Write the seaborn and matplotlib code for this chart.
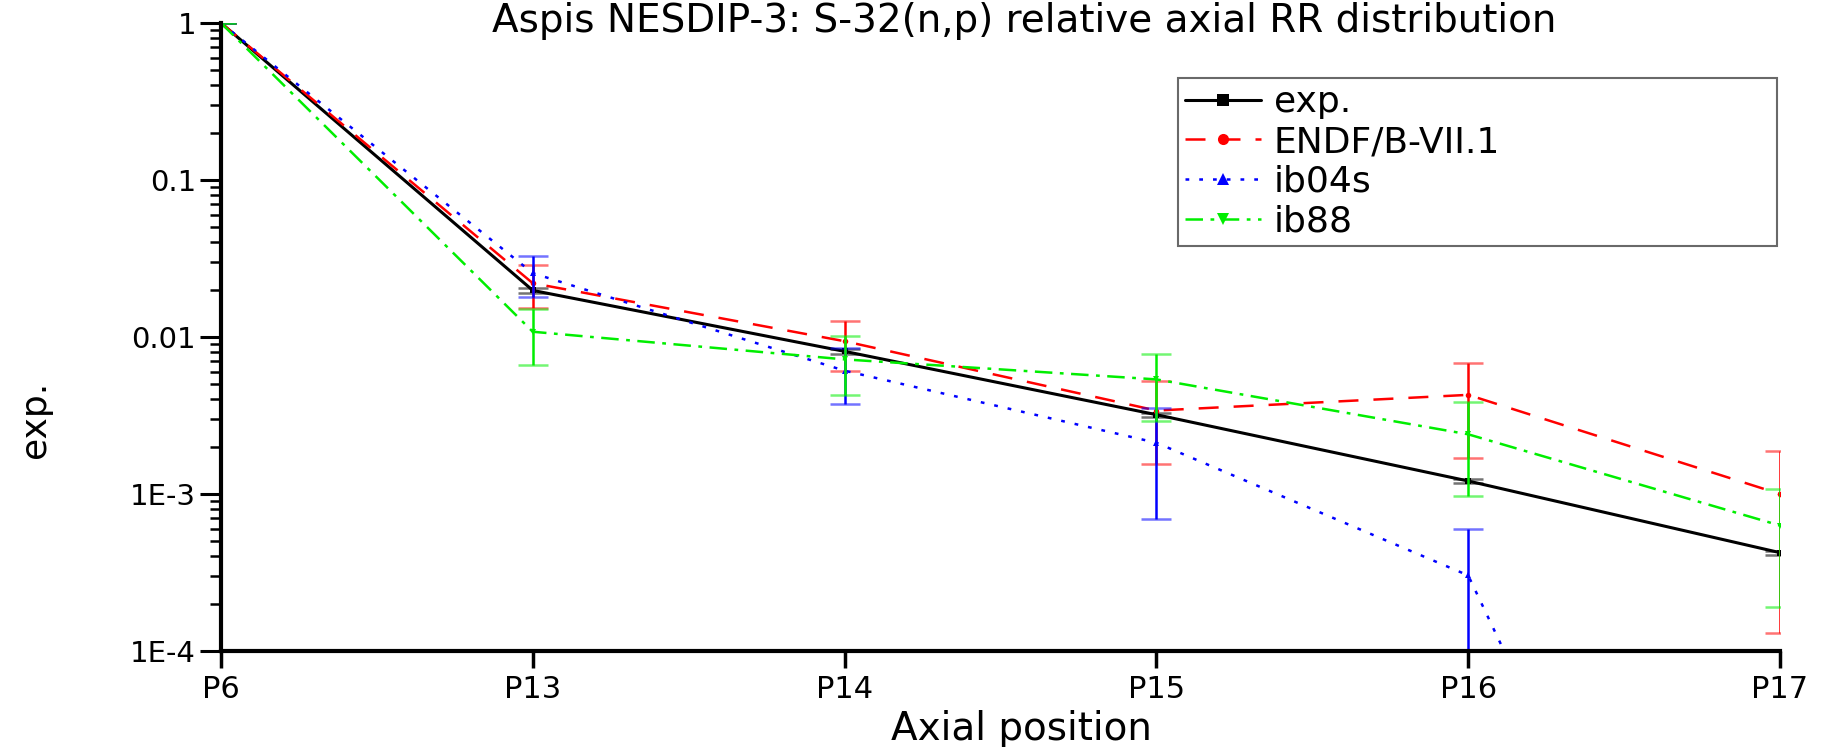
import numpy as np
import pandas as pd
import matplotlib
matplotlib.use("Agg")
import matplotlib.pyplot as plt
import seaborn as sns

positions = ["P6", "P13", "P14", "P15", "P16", "P17"]
exp_vals = [1.0, 0.0198, 0.0081, 0.0032, 0.00121, 0.000423]
exp_err = [0.0, 0.0006, 0.00025, 0.0001, 0.00004, 0.000013]
endf_vals = [1.0, 0.0220, 0.0094, 0.0034, 0.00428, 0.00100]
endf_err = [0.0, 0.0067, 0.0033, 0.00184, 0.00258, 0.00087]
ib04s_vals = [1.0, 0.0255, 0.0061, 0.00212, 0.000303, 2e-8]
ib04s_err = [0.0, 0.0074, 0.00237, 0.00143, 0.000296, 0.0]
ib88_vals = [1.0, 0.0108, 0.0072, 0.00537, 0.0024, 0.00063]
ib88_err = [0.0, 0.0042, 0.0029, 0.00245, 0.00143, 0.00044]

series = [
    ("exp.", exp_vals, exp_err, "black", "-", "s"),
    ("ENDF/B-VII.1", endf_vals, endf_err, "#ff0000", (0, (8, 6)), "o"),
    ("ib04s", ib04s_vals, ib04s_err, "#0000ff", (0, (1.5, 4)), "^"),
    ("ib88", ib88_vals, ib88_err, "#00ee00", (0, (7, 3, 1.5, 3)), "v"),
]

sns.set_theme(style="ticks")
plt.rcParams["font.family"] = ["DejaVu Sans"]
plt.rcParams.update({"text.color": "black", "xtick.color": "black",
                     "ytick.color": "black", "axes.edgecolor": "black",
                     "axes.labelcolor": "black"})

W, H = 1823, 747
fig = plt.figure(figsize=(W / 100, H / 100), dpi=100)
ax = fig.add_axes([221 / W, 1 - 651 / H, (1780 - 221) / W, (651 - 23) / H])

x = np.arange(len(positions))
for name, vals, err, col, ls, mk in series:
    df = pd.DataFrame({"pos": x, "val": vals})
    sns.lineplot(data=df, x="pos", y="val", ax=ax, color=col, linestyle=ls,
                 linewidth=2.2 if name == "exp." else 1.8, marker=mk,
                 markersize=4, markeredgewidth=0, label=name)
    e = ax.errorbar(x, vals, yerr=err, fmt="none", ecolor=col, elinewidth=1.8,
                    capsize=11, capthick=1.8)
    for c in e[1]:
        c.set_alpha(0.55)

ax.set_yscale("log")
ax.set_ylim(1e-4, 1)
ax.set_xlim(0, 5)
ax.set_xticks(x)
ax.set_xticklabels(positions)
ax.set_yticks([1e-4, 1e-3, 1e-2, 1e-1, 1])
ax.set_yticklabels(["1E-4", "1E-3", "0.01", "0.1", "1"])
ax.tick_params(axis="y", which="major", labelsize=21, length=15, width=2.2,
               direction="out", pad=3, colors="black")
ax.tick_params(axis="x", which="major", labelsize=22, length=12, width=2.5,
               direction="out", pad=5, colors="black")
ax.tick_params(axis="y", which="minor", length=8, width=1.8, direction="out",
               colors="black")
ax.set_xlabel("")
ax.set_ylabel("")
for s in ["top", "right"]:
    ax.spines[s].set_visible(False)
for s in ["left", "bottom"]:
    ax.spines[s].set_linewidth(3)
    ax.spines[s].set_color("black")
    ax.spines[s].set_zorder(5)

# legend box spanning roughly x 1178..1777, y 78..232 (pixels)
ax_w = 1780 - 221
ax_h = 651 - 23
bx0 = (1178 - 221) / ax_w
bw = (1777 - 1178) / ax_w
by1 = 1 - (78 - 23) / ax_h
by0 = 1 - (232 - 23) / ax_h
leg = ax.legend(loc="upper left", bbox_to_anchor=(bx0, by0, bw, by1 - by0), mode="expand",
                fontsize=26, frameon=True, fancybox=False, edgecolor="#444444",
                handlelength=2.1, markerscale=2.0, borderpad=0.2, labelspacing=0.16,
                handletextpad=0.35, borderaxespad=0.0)
leg.get_frame().set_linewidth(1.5)
for t in leg.get_texts():
    t.set_color("black")

fig.text(1024 / W, 1 - 21 / H, "Aspis NESDIP-3: S-32(n,p) relative axial RR distribution",
         ha="center", va="center", fontsize=28, color="black")
fig.text(1021 / W, 1 - 729 / H, "Axial position", ha="center", va="center", fontsize=28,
         color="black")
fig.text(35 / W, 1 - 419 / H, "exp.", ha="center", va="center", fontsize=26, rotation=90,
         color="black")

fig.savefig("out.png", dpi=100)
